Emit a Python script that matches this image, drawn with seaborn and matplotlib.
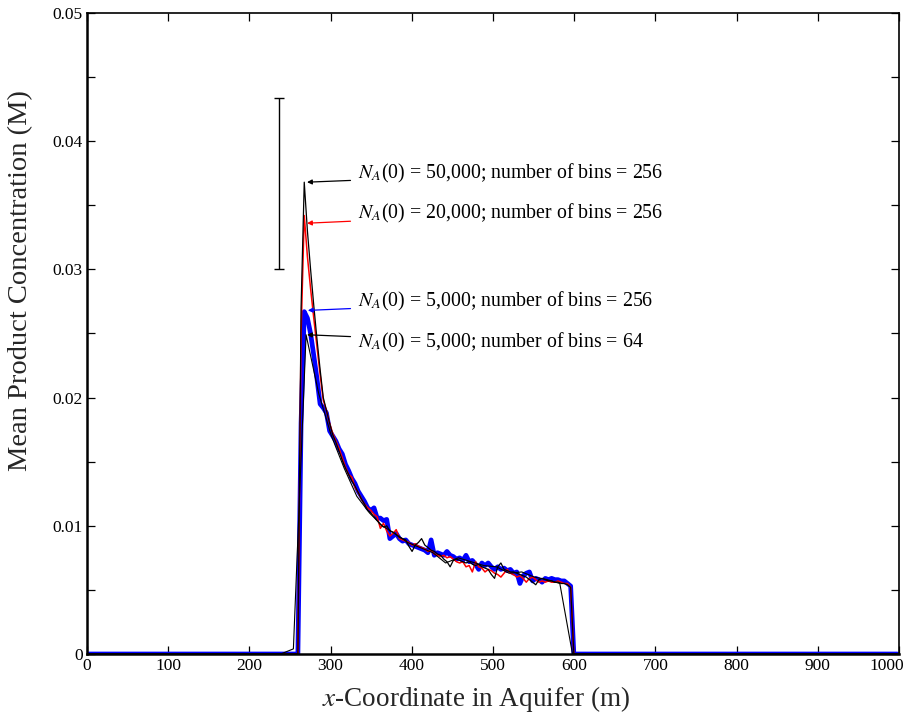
import numpy as np
import pandas as pd
import matplotlib
matplotlib.use("Agg")
import matplotlib.pyplot as plt
import matplotlib.transforms as mtransforms
import seaborn as sns

# ---------------- data ----------------
n_bins_fine = 256
first_bin_fine = 67          # first non-zero bin of the 256-bin profiles
n_bins_coarse = 64
first_bin_coarse = 16
coarse_shift = -3.6          # offset of the 64-bin centres (m)

blue_5000_256 = [
    0.0180, 0.0267, 0.0262, 0.0250, 0.0233, 0.0215, 0.0195, 0.0192, 0.0188, 0.0174,
    0.0170, 0.0166, 0.0160, 0.0156, 0.0148, 0.0143, 0.0137, 0.0133, 0.0127, 0.0123,
    0.0119, 0.0114, 0.0112, 0.0114, 0.0106, 0.0106, 0.0104, 0.0105, 0.0090, 0.0092,
    0.0094, 0.0090, 0.0088, 0.0089, 0.0086, 0.0085, 0.0084, 0.0083, 0.0082, 0.0081,
    0.0079, 0.0089, 0.0077, 0.0079, 0.0078, 0.0077, 0.0080, 0.0077, 0.0076, 0.0074,
    0.0075, 0.0073, 0.0077, 0.0072, 0.0073, 0.0070, 0.0066, 0.0071, 0.0069, 0.0071,
    0.0068, 0.0066, 0.0068, 0.0066, 0.0067, 0.0065, 0.0066, 0.0063, 0.0064, 0.0055,
    0.0061, 0.0063, 0.0064, 0.0057, 0.0059, 0.0058, 0.0056, 0.0059, 0.0058, 0.0059,
    0.0058, 0.0058, 0.0057, 0.0057, 0.0055, 0.0053]

red_20000_256 = [
    0.0250, 0.0342, 0.0310, 0.0285, 0.0262, 0.0240, 0.0218, 0.0198, 0.0190, 0.0180,
    0.0172, 0.0166, 0.0160, 0.0153, 0.0146, 0.0140, 0.0138, 0.0130, 0.0126, 0.0121,
    0.0117, 0.0114, 0.0112, 0.0109, 0.0107, 0.0098, 0.0102, 0.0096, 0.0092, 0.0094,
    0.0097, 0.0090, 0.0089, 0.0088, 0.0087, 0.0085, 0.0086, 0.0084, 0.0083, 0.0082,
    0.0080, 0.0081, 0.0078, 0.0077, 0.0076, 0.0077, 0.0075, 0.0076, 0.0074, 0.0072,
    0.0071, 0.0072, 0.0068, 0.0069, 0.0064, 0.0072, 0.0068, 0.0067, 0.0064, 0.0066,
    0.0065, 0.0063, 0.0062, 0.0060, 0.0063, 0.0066, 0.0063, 0.0062, 0.0060, 0.0061,
    0.0059, 0.0056, 0.0059, 0.0060, 0.0058, 0.0056, 0.0057, 0.0056, 0.0057, 0.0056,
    0.0056, 0.0057, 0.0056, 0.0055, 0.0055, 0.0052]

black_50000_256 = [
    0.0270, 0.0368, 0.0330, 0.0300, 0.0272, 0.0246, 0.0222, 0.0200, 0.0190, 0.0180,
    0.0171, 0.0165, 0.0158, 0.0151, 0.0145, 0.0140, 0.0135, 0.0131, 0.0126, 0.0121,
    0.0117, 0.0112, 0.0110, 0.0107, 0.0104, 0.0101, 0.0099, 0.0100, 0.0096, 0.0095,
    0.0093, 0.0091, 0.0090, 0.0089, 0.0084, 0.0080, 0.0085, 0.0087, 0.0090, 0.0085,
    0.0083, 0.0081, 0.0080, 0.0078, 0.0077, 0.0074, 0.0072, 0.0068, 0.0073, 0.0074,
    0.0073, 0.0072, 0.0071, 0.0072, 0.0070, 0.0069, 0.0070, 0.0068, 0.0067, 0.0066,
    0.0062, 0.0059, 0.0068, 0.0071, 0.0066, 0.0065, 0.0064, 0.0064, 0.0063, 0.0062,
    0.0061, 0.0060, 0.0058, 0.0056, 0.0054, 0.0058, 0.0059, 0.0058, 0.0057, 0.0057,
    0.0056, 0.0056, 0.0055, 0.0055, 0.0054, 0.0052]

black_5000_64 = [
    0.0004, 0.0249, 0.0203, 0.0170, 0.0145, 0.0123, 0.0110, 0.0100, 0.0094, 0.0087,
    0.0083, 0.0079, 0.0071, 0.0075, 0.0072, 0.0069, 0.0068, 0.0063, 0.0064, 0.0060,
    0.0058, 0.0055]

errbar_x = 236.5
errbar_lo = 0.0300
errbar_hi = 0.0434

labels = [r"$N_A$(0) = 50,000; number of bins = 256",
          r"$N_A$(0) = 20,000; number of bins = 256",
          r"$N_A$(0) = 5,000; number of bins = 256",
          r"$N_A$(0) = 5,000; number of bins = 64"]
label_y = [0.03744, 0.03432, 0.02746, 0.02426]
arrow_tip = [(271, 0.0368), (271, 0.0336), (272, 0.0268), (271, 0.0249)]
arrow_colors = ["black", "red", "blue", "black"]

x_ticks = [0, 100, 200, 300, 400, 500, 600, 700, 800, 900, 1000]
y_ticks = [0, 0.01, 0.02, 0.03, 0.04, 0.05]
y_tick_labels = ["0", "0.01", "0.02", "0.03", "0.04", "0.05"]


def full_profile(vals, nbins, first, shift=0.0):
    x = (np.arange(nbins) + 0.5) * 1000.0 / nbins + shift
    y = np.zeros(nbins)
    y[first:first + len(vals)] = vals
    return pd.DataFrame({"x": x, "y": y})


df_blue = full_profile(blue_5000_256, n_bins_fine, first_bin_fine)
df_red = full_profile(red_20000_256, n_bins_fine, first_bin_fine)
df_b50 = full_profile(black_50000_256, n_bins_fine, first_bin_fine)
df_b64 = full_profile(black_5000_64, n_bins_coarse, first_bin_coarse, coarse_shift)
df_b64 = pd.concat([pd.DataFrame({"x": [0.0], "y": [0.0]}), df_b64,
                    pd.DataFrame({"x": [1000.0], "y": [0.0]})], ignore_index=True)

# ---------------- plot ----------------
sns.set_style("ticks")
plt.rcParams["font.family"] = ["Liberation Serif", "DejaVu Serif"]
plt.rcParams["mathtext.fontset"] = "stix"

fig = plt.figure(figsize=(9.08, 7.19), dpi=100)
ax = fig.add_axes([0.0958, 0.0904, 0.8942, 0.8916])

sns.lineplot(data=df_blue, x="x", y="y", ax=ax, color="blue", linewidth=3.4,
             estimator=None, sort=False)
sns.lineplot(data=df_red, x="x", y="y", ax=ax, color="red", linewidth=1.1,
             estimator=None, sort=False)
sns.lineplot(data=df_b50, x="x", y="y", ax=ax, color="black", linewidth=0.9,
             estimator=None, sort=False)
sns.lineplot(data=df_b64, x="x", y="y", ax=ax, color="black", linewidth=0.8,
             estimator=None, sort=False)

mid = 0.5 * (errbar_lo + errbar_hi)
ax.errorbar([errbar_x], [mid], yerr=[[mid - errbar_lo], [errbar_hi - mid]],
            fmt="none", ecolor="black", elinewidth=1.0, capsize=3.4, capthick=1.0)

for lab, ly, tip, col in zip(labels, label_y, arrow_tip, arrow_colors):
    ax.annotate(lab, xy=tip, xytext=(333.7, ly), ha="left", va="center",
                fontsize=14.3, color="black",
                arrowprops=dict(arrowstyle="-|>", color=col, lw=0.9,
                                mutation_scale=7, shrinkA=3, shrinkB=0))

ax.set_xlim(0, 1000)
ax.set_ylim(0, 0.05)
ax.set_xticks(x_ticks)
ax.set_xticklabels([str(t) for t in x_ticks])
ax.set_yticks(y_ticks)
ax.set_yticklabels(y_tick_labels)
ax.set_yticks(np.array([0.005, 0.015, 0.025, 0.035, 0.045]), minor=True)
ax.tick_params(axis="both", which="both", direction="in", top=True, right=True,
               labelsize=12.5, length=6, width=0.9, pad=3, colors="black")
ax.tick_params(axis="y", which="minor", length=6)

# shift the last x tick label left so it stays inside the figure
last_lab = ax.get_xticklabels()[-1]
last_lab.set_transform(last_lab.get_transform() +
                       mtransforms.ScaledTranslation(-12 / 100, 0, fig.dpi_scale_trans))

for side in ["left", "bottom"]:
    ax.spines[side].set_linewidth(1.8)
for side in ["top", "right"]:
    ax.spines[side].set_linewidth(1.2)
for s in ax.spines.values():
    s.set_color("black")

ax.set_xlabel(r"$x$-Coordinate in Aquifer (m)", fontsize=19.5)
ax.set_ylabel("Mean Product Concentration (M)", fontsize=20.5)
ax.xaxis.set_label_coords(0.479, -0.047)
ax.yaxis.set_label_coords(-0.066, 0.582)

fig.savefig("out.png", dpi=100)
